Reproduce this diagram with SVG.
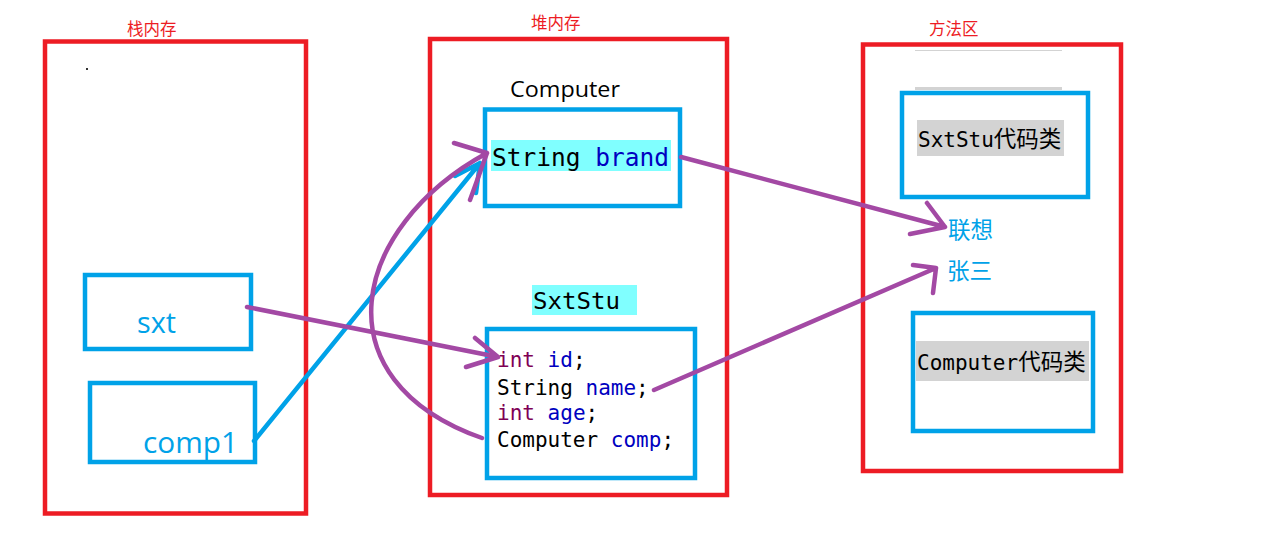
<svg xmlns="http://www.w3.org/2000/svg" width="1285" height="539" viewBox="0 0 1285 539">
<defs>
<style>
.region{fill:none;stroke:#ED1C24;stroke-width:4.5}
.box{fill:none;stroke:#00A2E8;stroke-width:4.5}
.title{font-family:"Noto Sans CJK SC","Noto Sans",sans-serif;font-size:16.5px;fill:#ED1C24}
.var{font-family:"Open Sans","Noto Sans",sans-serif;fill:#00A2E8}
.mono{font-family:"DejaVu Sans Mono","Liberation Mono","Noto Sans CJK SC",monospace;fill:#000}
.cjk{font-family:"Noto Sans CJK SC",sans-serif}
.kw{fill:#7F0055}
.fld{fill:#0000C0}
.val{font-family:"Noto Sans CJK SC",sans-serif;font-size:22.5px;fill:#00A2E8}
.ref{fill:none;stroke:#A349A4;stroke-width:4.5;stroke-linecap:round;stroke-linejoin:round}
.refb{fill:none;stroke:#00A2E8;stroke-width:4.5;stroke-linecap:round;stroke-linejoin:round}
</style>
</defs>
<rect width="1285" height="539" fill="#fff"/>

<g id="stack">
<rect class="region" x="45" y="41.5" width="261" height="472"/>
<text class="title" x="127" y="35">栈内存</text>
<rect x="86" y="68" width="2" height="2" fill="#333"/>
</g>
<g id="node-sxt">
<rect class="box" x="85" y="275" width="166" height="74"/>
<text class="var" x="137" y="333" font-size="30" textLength="39" lengthAdjust="spacingAndGlyphs">sxt</text>
</g>
<g id="node-comp1">
<rect class="box" x="90" y="383" width="165" height="79"/>
<text class="var" x="143" y="453" font-size="29" textLength="95" lengthAdjust="spacingAndGlyphs">comp1</text>
</g>

<g id="heap">
<rect class="region" x="430" y="39" width="297" height="456"/>
<text class="title" x="531" y="29">堆内存</text>
</g>
<g id="node-computer">
<text x="510" y="97" font-family="'Open Sans','Noto Sans',sans-serif" font-size="21" fill="#000" textLength="110" lengthAdjust="spacingAndGlyphs">Computer</text>
<rect class="box" x="485" y="109.5" width="195" height="96.5"/>
<rect x="491" y="140" width="180" height="31" fill="#80FFFF"/>
<text class="mono" x="492" y="166" font-size="24" textLength="177" lengthAdjust="spacingAndGlyphs">String <tspan class="fld">brand</tspan></text>
</g>
<g id="node-sxtstu">
<rect x="532" y="285" width="105" height="30" fill="#80FFFF"/>
<text class="mono" x="533" y="309" font-size="23.5" textLength="87" lengthAdjust="spacingAndGlyphs">SxtStu</text>
<rect class="box" x="487" y="329" width="208" height="149"/>
<text class="mono" x="497" y="367" font-size="21"><tspan class="kw">int</tspan> <tspan class="fld">id</tspan>;</text>
<text class="mono" x="497" y="395" font-size="21">String <tspan class="fld">name</tspan>;</text>
<text class="mono" x="497" y="420" font-size="21"><tspan class="kw">int</tspan> <tspan class="fld">age</tspan>;</text>
<text class="mono" x="497" y="447" font-size="21">Computer <tspan class="fld">comp</tspan>;</text>
</g>

<g id="method-area">
<rect class="region" x="863" y="44.5" width="258" height="426.5"/>
<text class="title" x="929" y="35">方法区</text>
<line x1="915" y1="50.5" x2="1062" y2="50.5" stroke="#D3D3D3" stroke-width="1.2"/>
<line x1="915" y1="88.5" x2="1062" y2="88.5" stroke="#D3D3D3" stroke-width="3"/>
</g>
<g id="node-sxtstu-class">
<rect class="box" x="902" y="93" width="186" height="104"/>
<rect x="917" y="120" width="147" height="36" fill="#D3D3D3"/>
<text class="mono" x="918" y="147" font-size="21">SxtStu<tspan class="cjk" font-size="22.5">代码类</tspan></text>
</g>
<g id="node-lianxiang">
<text class="val" x="948" y="238">联想</text>
</g>
<g id="node-zhangsan">
<text class="val" x="947" y="279">张三</text>
</g>
<g id="node-computer-class">
<rect class="box" x="913" y="313" width="180" height="118"/>
<rect x="916" y="341" width="173" height="40" fill="#D3D3D3"/>
<text class="mono" x="917" y="370" font-size="21">Computer<tspan class="cjk" font-size="22.5">代码类</tspan></text>
</g>

<g id="connectors">
<path class="refb" d="M254 441 L480 163 M455 176 L480 163 L476 193"/>
<path class="ref" d="M247 307 L498 357 M475 338 L498 357 L466 367"/>
<path class="ref" d="M482 438 C 318 380, 350 228, 487 153 M454 143 L487 153 L470 200"/>
<path class="ref" d="M681 157 L945 227 M927 203 L945 227 L910 234"/>
<path class="ref" d="M654 390 L936 268 M913 265 L936 268 L933 293"/>
</g>
</svg>
